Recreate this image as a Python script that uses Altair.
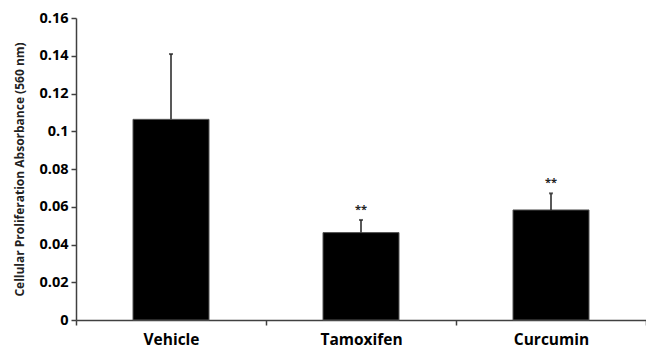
import altair as alt
import pandas as pd

groups = ["Vehicle", "Tamoxifen", "Curcumin"]
means = [0.1063, 0.0463, 0.0583]
errors = [0.0346, 0.0067, 0.0088]
marks = ["", "**", "**"]
yticks = [0, 0.02, 0.04, 0.06, 0.08, 0.1, 0.12, 0.14, 0.16]

df = pd.DataFrame({
    "group": groups,
    "mean": means,
    "upper": [m + e for m, e in zip(means, errors)],
    "sig": marks,
})

FONT = "Open Sans"
YTITLE = "Cellular Proliferation Absorbance  (560 nm)"

xaxis = alt.Axis(labelAngle=0, labelFont=FONT, labelFontWeight="bold",
                 labelFontSize=15.5, labelColor="black", labelPadding=7,
                 tickBand="extent", tickSize=5, domainColor="#404040",
                 tickColor="#404040", domainWidth=1.5, tickWidth=1.5)
xscale = alt.Scale(paddingInner=0, paddingOuter=0)
yscale = alt.Scale(domain=[0, 0.16], nice=False)
yaxis = alt.Axis(values=yticks, format="~g", grid=False, labelOverlap=False,
                 labelFont=FONT, labelFontWeight="bold",
                 labelFontSize=14.5, labelColor="black", tickSize=5, labelPadding=3,
                 domainColor="#404040", tickColor="#404040", domainWidth=1.5,
                 tickWidth=1.5,
                 titleFont=FONT, titleFontWeight="bold", titleFontSize=12,
                 titleColor="#222", titlePadding=12)


def X():
    return alt.X("group:N", sort=groups, title=None, scale=xscale, axis=xaxis)


def Y(field):
    return alt.Y(field, title=YTITLE, scale=yscale, axis=yaxis)


base = alt.Chart(df)
bars = base.mark_bar(color="black", stroke="#555", strokeWidth=1,
                     width=alt.RelativeBandSize(0.4)).encode(x=X(), y=Y("mean:Q"))
err = base.mark_rule(color="#222", strokeWidth=1.5).encode(
    x=X(), y=Y("mean:Q"), y2="upper:Q")
cap = base.mark_tick(color="#222", thickness=2, size=4, orient="horizontal").encode(
    x=X(), y=Y("upper:Q"))
stars = base.mark_text(font=FONT, fontSize=11, fontWeight="bold", color="#222",
                       baseline="bottom", dy=-5).encode(
    x=X(), y=Y("upper:Q"), text="sig:N")

chart = alt.layer(bars, err, cap, stars).properties(
    width=570, height=302,
    autosize=alt.AutoSizeParams(type="none"),
    padding={"left": 76, "top": 18, "right": 0, "bottom": 32},
).configure_view(stroke=None)

chart.save("out.html", embed_options={"renderer": "svg", "actions": False})
